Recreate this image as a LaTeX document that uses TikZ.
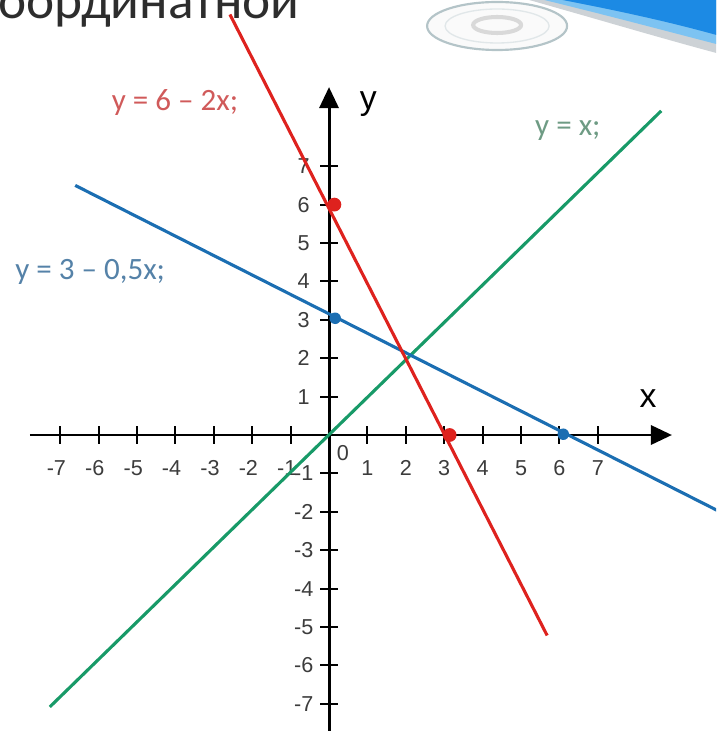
\documentclass[tikz,border=0pt]{standalone}
\usepackage{fontspec}
\setmainfont{Liberation Sans}
\newfontfamily\calfont{Carlito}
\usetikzlibrary{arrows.meta}
\definecolor{redline}{RGB}{222,34,30}
\definecolor{greenline}{RGB}{24,154,104}
\definecolor{blueline}{RGB}{27,110,178}
\definecolor{redlab}{RGB}{208,90,90}
\definecolor{greenlab}{RGB}{110,155,132}
\definecolor{bluelab}{RGB}{85,130,168}
\definecolor{ticklab}{RGB}{60,60,60}
\definecolor{titlegray}{RGB}{45,45,45}
\definecolor{deepblue}{RGB}{28,138,228}
\definecolor{lightblue}{RGB}{125,195,242}
\definecolor{shadowgray}{RGB}{205,210,214}
\definecolor{ringgray}{RGB}{180,196,200}
\begin{document}
\begin{tikzpicture}[
  axis/.style={line width=2.2pt, -{Triangle[length=0.55cm,width=0.5cm]}},
  tickmark/.style={line width=1.4pt},
  ticklabel/.style={text=ticklab, font=\fontsize{16}{16}\selectfont, inner sep=0pt},
  axislabel/.style={font=\fontsize{25}{25}\selectfont, inner sep=0pt},
  graph/.style={line width=2.3pt},
  eqlabel/.style={font=\calfont\fontsize{23}{23}\selectfont, inner sep=0pt},
  dotstyle/.style={circle, inner sep=0pt, minimum size=#1},
  dotstyle/.default=0.3cm
]
\useasboundingbox (-8.568,-7.708) rectangle (10.078,11.328);
\clip (-8.568,-7.708) rectangle (10.078,11.328);

% slide decorations (pixel coordinates)
\begin{scope}[shift={(-8.568cm,11.328cm)}, x=0.0260417cm, y=-0.0260417cm]
  \fill[shadowgray] (522,-2) .. controls (600,20) and (660,38) .. (720,54) -- (720,-2) -- cycle;
  \fill[lightblue] (536,-2) .. controls (610,16) and (662,30) .. (720,45) -- (720,-2) -- cycle;
  \fill[deepblue] (552,-2) .. controls (620,11) and (670,22) .. (720,36) -- (720,-2) -- cycle;
  \draw[ringgray, line width=1.6pt, fill=white!96!gray] (497,26) ellipse [x radius=70, y radius=24];
  \draw[ringgray!40, line width=1pt] (497,26) ellipse [x radius=52, y radius=17];
  \draw[gray!30, line width=3pt] (497,25) ellipse [x radius=24, y radius=8];
\end{scope}

% title fragment
\node[anchor=base east, inner sep=0pt, text=titlegray, font=\calfont\fontsize{39.5}{39.5}\selectfont] (title) at (-0.755,10.84) {координатной};

% axes
\coordinate (xs) at (-7.79,0);
\coordinate (xe) at (8.93,0);
\coordinate (ys) at (0,-7.9);
\coordinate (ye) at (0,9.06);
\draw[axis] (xs) -- (xe);
\draw[axis] (ys) -- (ye);
\node[axislabel] (xlab) at (8.31,0.96) {x};
\node[axislabel] (ylab) at (1.02,8.62) {y};

% ticks and labels
\foreach \i in {-7,-6,-5,-4,-3,-2,-1} {
  \draw[tickmark] (\i,-0.23) -- (\i,0.23);
  \node[ticklabel] (xt\i) at (\i-0.1,-0.87) {\i};
  \draw[tickmark] (-0.23,\i) -- (0.23,\i);
  \node[ticklabel, anchor=east] (yt\i) at (-0.4,\i) {\i};
}
\foreach \i in {1,...,7} {
  \draw[tickmark] (\i,-0.23) -- (\i,0.23);
  \node[ticklabel] (xt\i) at (\i,-0.87) {\i};
  \draw[tickmark] (-0.23,\i) -- (0.23,\i);
  \node[ticklabel, anchor=east] (yt\i) at (-0.5,\i) {\i};
}
\node[ticklabel] (zero) at (0.36,-0.47) {0};

% graphs
\coordinate (g1) at (-7.27,-7.08);
\coordinate (g2) at (8.65,8.44);
\draw[graph, greenline] (g1) -- (g2);
\coordinate (b1) at (-6.61,6.5);
\coordinate (b2) at (10.3,-2.06);
\draw[graph, blueline] (b1) -- (b2);
\coordinate (r1) at (-2.58,10.95);
\coordinate (r2) at (5.68,-5.22);
\draw[graph, redline] (r1) -- (r2);

% points
\node[dotstyle=0.36cm, fill=redline] (p06) at (0.14,6) {};
\node[dotstyle=0.36cm, fill=redline] (p30) at (3.14,0) {};
\node[dotstyle=0.3cm, fill=blueline] (p03) at (0.16,3.04) {};
\node[dotstyle=0.3cm, fill=blueline] (p60) at (6.1,0.02) {};

% equation labels
\node[eqlabel, text=redlab] (lred) at (-4.01,8.65) {y = 6 – 2x;};
\node[eqlabel, text=greenlab] (lgreen) at (6.22,7.94) {y = x;};
\node[eqlabel, text=bluelab] (lblue) at (-6.22,4.24) {y = 3 – 0,5x;};
\end{tikzpicture}
\end{document}
